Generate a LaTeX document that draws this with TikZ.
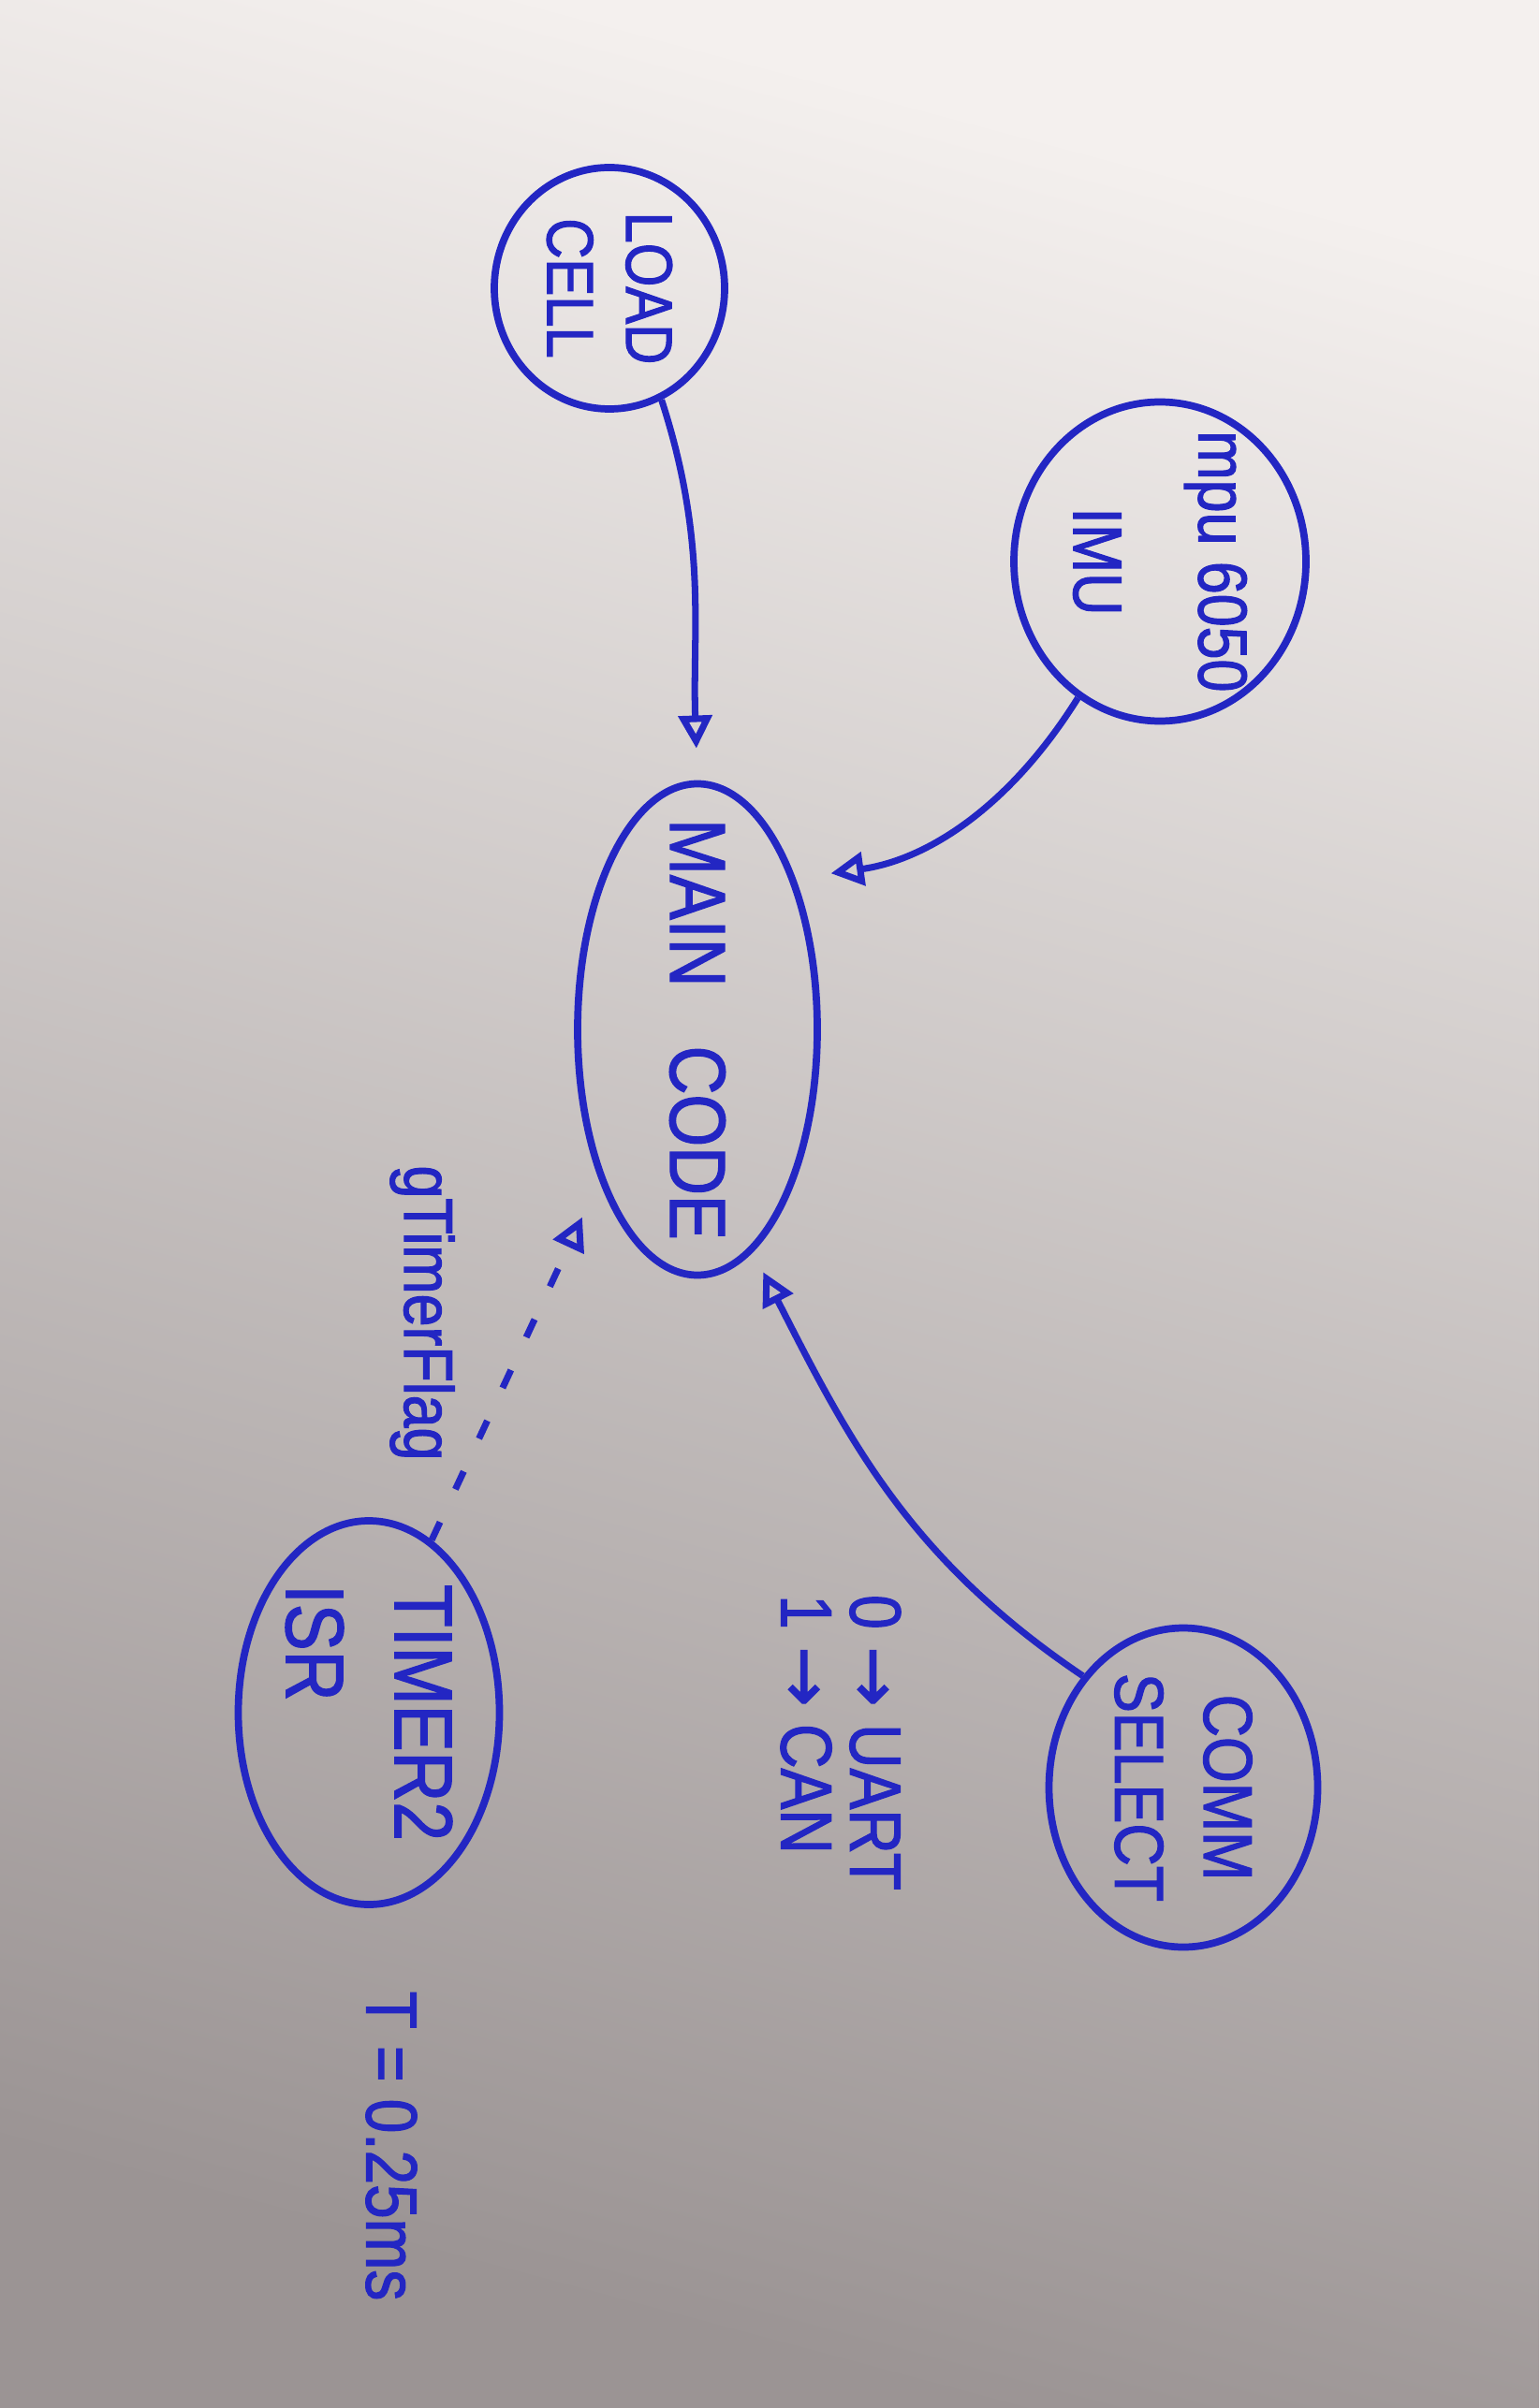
\documentclass[tikz,border=0pt]{standalone}
\usepackage{fontspec}
\newfontfamily\handfont{Liberation Sans}[FakeStretch=0.85, FakeBold=1.6]
\newfontfamily\arrowfont{DejaVu Sans}[FakeBold=1.6]
\usetikzlibrary{shapes.geometric, arrows.meta}
\definecolor{ink}{RGB}{35,38,195}
\definecolor{paperhi}{RGB}{244,240,238}
\definecolor{papermid}{RGB}{224,220,220}
\definecolor{paperlo}{RGB}{155,148,148}
\newcommand{\slimline}[1]{\makebox[0pt]{#1}}

\begin{document}
\begin{tikzpicture}[
  every node/.style={text=ink},
  blob/.style={ellipse, draw=ink, line width=2.2pt, inner sep=0pt, rotate=-90, align=center},
  tag/.style={rotate=-90, align=left, inner sep=0pt},
  arr/.style={-{Triangle[open, length=10pt, width=10pt]}, draw=ink, line width=2pt},
  flagarr/.style={arr, dash pattern=on 6pt off 11pt},
]

%% Paper
\useasboundingbox (0,0) rectangle (16.44,-25.73);
\shade[top color=paperhi, middle color=papermid, bottom color=paperlo, shading angle=-15] (0,0) rectangle (16.44,-25.73);

%% Sources
\node[blob, minimum width=2.58cm, minimum height=2.46cm, font={\handfont\fontsize{20}{24}\selectfont}] (load) at (6.51,-3.08) {\slimline{LOAD}\\\slimline{CELL}};
\node[blob, minimum width=3.41cm, minimum height=3.12cm, font={\handfont\fontsize{21}{25}\selectfont}] (mpu) at (12.39,-6.00) {\slimline{mpu 6050}\\[13pt]\slimline{IMU}};

%% Main
\node[blob, minimum width=5.25cm, minimum height=2.56cm, font={\handfont\fontsize{24}{29}\selectfont}] (main) at (7.45,-11.00) {\slimline{MAIN\hspace{18pt}CODE}};

%% Timer and comm
\node[blob, align=left, minimum width=4.10cm, minimum height=2.79cm, font={\handfont\fontsize{25}{30}\selectfont}] (timer) at (3.94,-18.30) {TIMER2\\[3pt]ISR};
\node[blob, minimum width=3.41cm, minimum height=2.87cm, font={\handfont\fontsize{21}{27}\selectfont}] (comm) at (12.64,-19.10) {\slimline{COMM}\\\slimline{SELECT}};

%% Notes
\node[tag, font={\handfont\fontsize{21}{25}\selectfont}] (flagnote) at (4.51,-14.03) {gTimerFlag};
\node[tag, font={\handfont\fontsize{22}{21}\selectfont}] (commnote) at (8.98,-18.62) {0 {\arrowfont→} UART\\1 {\arrowfont→} CAN};
\node[tag, font={\handfont\fontsize{22}{26}\selectfont}] (periodnote) at (4.18,-22.93) {T = 0.25ms};

%% Arrows
\draw[arr, shorten >=0.34cm] (load.25) to[out=-72, in=92] (main.180);
\draw[arr, shorten >=0.38cm] (mpu.-31) to[out=-122, in=8] (main.147);
\draw[arr, shorten >=0.24cm] (comm.222) to[out=146, in=-63] (main.14);
\draw[flagarr, shorten >=0.43cm] (timer.160) -- (main.-33);

\end{tikzpicture}
\end{document}
